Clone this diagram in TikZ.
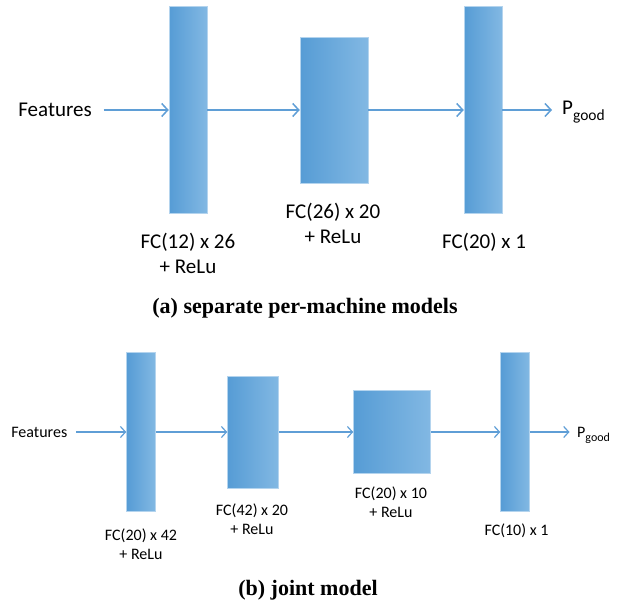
\documentclass[tikz,border=0pt]{standalone}
\usepackage{fontspec}
\setmainfont{Carlito}
\newfontfamily\capfont{Liberation Serif}
\usetikzlibrary{arrows.meta}
\definecolor{layerL}{RGB}{86,156,213}
\definecolor{layerR}{RGB}{130,184,227}
\definecolor{flowblue}{RGB}{95,158,214}
\tikzset{
  layer/.style={rectangle, inner sep=0pt, left color=layerL, right color=layerR,
    draw=layerR!60!white, line width=0.5pt},
  flow/.style={draw=flowblue, line width=1.5pt,
    -{Straight Barb[length=6pt,width=13pt]}},
  flowsmall/.style={draw=flowblue, line width=1.2pt,
    -{Straight Barb[length=5pt,width=11pt]}},
  big/.style={inner sep=0pt, align=center, font=\fontsize{21}{25}\selectfont},
  small/.style={inner sep=0pt, align=center, font=\fontsize{16}{19}\selectfont},
  caption/.style={inner sep=0pt, font=\capfont\bfseries\fontsize{22}{24}\selectfont},
}
\begin{document}
\begin{tikzpicture}[x=1pt, y=-1pt]
\useasboundingbox (0,0) rectangle (626,605);

% ---- (a) separate per-machine models ----
\node[big, anchor=east] (featA) at (92,110) {Features};
\node[layer, minimum width=38pt, minimum height=207pt] (a1) at (188,110) {};
\node[layer, minimum width=68pt, minimum height=146pt] (a2) at (334,110) {};
\node[layer, minimum width=38pt, minimum height=207pt] (a3) at (483,110) {};
\node[big, anchor=base west] (pA) at (562,114)
  {P\raisebox{-6pt}{\fontsize{15.5}{15.5}\selectfont good}};

\draw[flow, shorten <=11.5pt] (featA.east) -- (a1.west);
\draw[flow] (a1.east) -- (a2.west);
\draw[flow] (a2.east) -- (a3.west);
\draw[flow, shorten >=10pt] (a3.east) -- (a3.east -| pA.west);

\node[big] (la1) at (188,253.5) {FC(12) x 26\\+ ReLu};
\node[big] (la2) at (333,223.5) {FC(26) x 20\\+ ReLu};
\node[big] (la3) at (484,242.5) {FC(20) x 1};

\node[caption] (capA) at (305,308) {(a) separate per-machine models};

% ---- (b) joint model ----
\node[small, anchor=east] (featB) at (67.5,432) {Features};
\node[layer, minimum width=29pt, minimum height=159pt] (b1) at (141,432) {};
\node[layer, minimum width=51pt, minimum height=112pt] (b2) at (253,432) {};
\node[layer, minimum width=77pt, minimum height=83pt] (b3) at (392,432) {};
\node[layer, minimum width=29pt, minimum height=159pt] (b4) at (515,432) {};
\node[small, anchor=base west] (pB) at (577,437)
  {P\raisebox{-4.5pt}{\fontsize{12}{12}\selectfont good}};

\draw[flowsmall, shorten <=8.5pt] (featB.east) -- (b1.west);
\draw[flowsmall] (b1.east) -- (b2.west);
\draw[flowsmall] (b2.east) -- (b3.west);
\draw[flowsmall] (b3.east) -- (b4.west);
\draw[flowsmall, shorten >=7.5pt] (b4.east) -- (b4.east -| pB.west);

\node[small] (lb1) at (141,544.5) {FC(20) x 42\\+ ReLu};
\node[small] (lb2) at (252,519.5) {FC(42) x 20\\+ ReLu};
\node[small] (lb3) at (391,502) {FC(20) x 10\\+ ReLu};
\node[small] (lb4) at (516.5,531) {FC(10) x 1};

\node[caption] (capB) at (308,590) {(b) joint model};
\end{tikzpicture}
\end{document}
